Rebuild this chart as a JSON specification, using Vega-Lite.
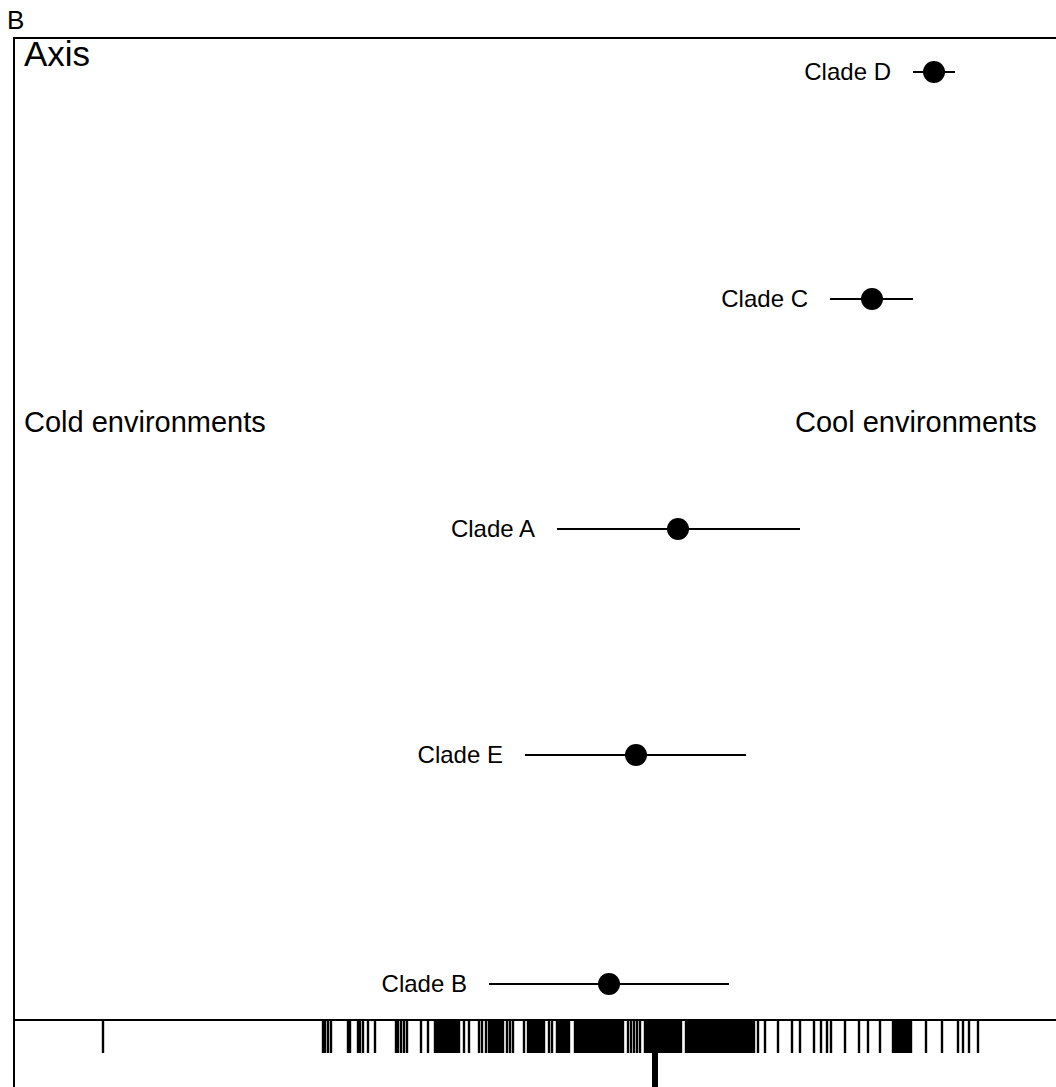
{
  "$schema": "https://vega.github.io/schema/vega-lite/v6.json",
  "width": 1046,
  "height": 1053,
  "autosize": "none",
  "padding": {"left": 14, "top": 38, "right": 0, "bottom": 0},
  "background": "white",
  "title": {"text": "B", "anchor": "start", "fontSize": 26, "font": "Liberation Sans", "fontWeight": "normal", "color": "black", "dx": -6, "offset": 4},
  "config": {"view": {"stroke": "black", "strokeWidth": 2}},
  "datasets": {
    "clades": [
      {"clade": "Clade D", "y": 72, "lo": 913, "est": 934, "hi": 955},
      {"clade": "Clade C", "y": 299, "lo": 830, "est": 872, "hi": 913},
      {"clade": "Clade A", "y": 529, "lo": 557, "est": 678, "hi": 800},
      {"clade": "Clade E", "y": 755, "lo": 525, "est": 636, "hi": 746},
      {"clade": "Clade B", "y": 984, "lo": 489, "est": 609, "hi": 729}
    ],
    "envs": [
      {"label": "Cold environments", "x": 24, "y": 432},
      {"label": "Cool environments", "x": 795, "y": 432}
    ],
    "axisLabel": [
      {"label": "Axis", "x": 24, "y": 66}
    ],
    "rug": [
      {"v": 103}, {"v": 323}, {"v": 325}, {"v": 328}, {"v": 331}, {"v": 348}, {"v": 350}, {"v": 358}, {"v": 360}, {"v": 363}, {"v": 368}, {"v": 375},
      {"v": 396}, {"v": 398}, {"v": 401}, {"v": 404}, {"v": 407}, {"v": 421}, {"v": 428},
      {"v": 435}, {"v": 437}, {"v": 439}, {"v": 441}, {"v": 443}, {"v": 445}, {"v": 447}, {"v": 449}, {"v": 451}, {"v": 453}, {"v": 455}, {"v": 457}, {"v": 459},
      {"v": 464}, {"v": 469}, {"v": 479}, {"v": 482}, {"v": 486},
      {"v": 489}, {"v": 491}, {"v": 493}, {"v": 495}, {"v": 497}, {"v": 499}, {"v": 501}, {"v": 503},
      {"v": 507}, {"v": 510}, {"v": 513}, {"v": 524},
      {"v": 528}, {"v": 530}, {"v": 532}, {"v": 534}, {"v": 536}, {"v": 538}, {"v": 540}, {"v": 542}, {"v": 544},
      {"v": 549}, {"v": 552},
      {"v": 557}, {"v": 559}, {"v": 561}, {"v": 563}, {"v": 565}, {"v": 567}, {"v": 569},
      {"v": 575}, {"v": 577}, {"v": 579}, {"v": 581}, {"v": 583}, {"v": 585}, {"v": 587}, {"v": 589}, {"v": 591}, {"v": 593}, {"v": 595}, {"v": 597}, {"v": 599}, {"v": 601}, {"v": 603}, {"v": 605}, {"v": 607}, {"v": 609}, {"v": 611}, {"v": 613}, {"v": 615}, {"v": 617}, {"v": 619}, {"v": 621}, {"v": 623},
      {"v": 628}, {"v": 631}, {"v": 634}, {"v": 637}, {"v": 640},
      {"v": 645}, {"v": 647}, {"v": 649}, {"v": 651}, {"v": 653}, {"v": 655}, {"v": 657}, {"v": 659}, {"v": 661}, {"v": 663}, {"v": 665}, {"v": 667}, {"v": 669}, {"v": 671}, {"v": 673}, {"v": 675}, {"v": 677}, {"v": 679}, {"v": 681},
      {"v": 686}, {"v": 688}, {"v": 690}, {"v": 692}, {"v": 694}, {"v": 696}, {"v": 698}, {"v": 700}, {"v": 702}, {"v": 704}, {"v": 706}, {"v": 708}, {"v": 710}, {"v": 712}, {"v": 714}, {"v": 716}, {"v": 718}, {"v": 720}, {"v": 722}, {"v": 724}, {"v": 726}, {"v": 728}, {"v": 730}, {"v": 732}, {"v": 734}, {"v": 736}, {"v": 738}, {"v": 740}, {"v": 742}, {"v": 744}, {"v": 746}, {"v": 748}, {"v": 750}, {"v": 752}, {"v": 754},
      {"v": 758}, {"v": 765}, {"v": 778}, {"v": 792}, {"v": 800}, {"v": 814}, {"v": 821}, {"v": 827}, {"v": 831}, {"v": 845}, {"v": 859}, {"v": 868}, {"v": 880},
      {"v": 893}, {"v": 895}, {"v": 897}, {"v": 899}, {"v": 901}, {"v": 903}, {"v": 905}, {"v": 907}, {"v": 909}, {"v": 911},
      {"v": 926}, {"v": 942}, {"v": 958}, {"v": 963}, {"v": 969}, {"v": 978}
    ],
    "centre": [{"v": 655}]
  },
  "layer": [
    {
      "data": {"name": "axisLabel"},
      "mark": {"type": "text", "align": "left", "baseline": "alphabetic", "font": "Liberation Sans", "fontSize": 35, "color": "black"},
      "encoding": {
        "x": {"field": "x", "type": "quantitative", "scale": {"domain": [14, 1060], "nice": false, "zero": false}, "axis": null},
        "y": {"field": "y", "type": "quantitative", "scale": {"domain": [38, 1091], "reverse": true, "nice": false, "zero": false}, "axis": null},
        "text": {"field": "label"}
      }
    },
    {
      "data": {"name": "envs"},
      "mark": {"type": "text", "align": "left", "baseline": "alphabetic", "font": "Liberation Sans", "fontSize": 29, "color": "black"},
      "encoding": {
        "x": {"field": "x", "type": "quantitative", "scale": {"domain": [14, 1060], "nice": false, "zero": false}, "axis": null},
        "y": {"field": "y", "type": "quantitative", "scale": {"domain": [38, 1091], "reverse": true, "nice": false, "zero": false}, "axis": null},
        "text": {"field": "label"}
      }
    },
    {
      "data": {"name": "clades"},
      "mark": {"type": "rule", "color": "black", "strokeWidth": 2},
      "encoding": {
        "x": {"field": "lo", "type": "quantitative", "scale": {"domain": [14, 1060], "nice": false, "zero": false}, "axis": null},
        "x2": {"field": "hi"},
        "y": {"field": "y", "type": "quantitative", "scale": {"domain": [38, 1091], "reverse": true, "nice": false, "zero": false}, "axis": null}
      }
    },
    {
      "data": {"name": "clades"},
      "mark": {"type": "point", "shape": "circle", "filled": true, "color": "black", "opacity": 1, "size": 484},
      "encoding": {
        "x": {"field": "est", "type": "quantitative", "scale": {"domain": [14, 1060], "nice": false, "zero": false}, "axis": null},
        "y": {"field": "y", "type": "quantitative", "scale": {"domain": [38, 1091], "reverse": true, "nice": false, "zero": false}, "axis": null}
      }
    },
    {
      "data": {"name": "clades"},
      "mark": {"type": "text", "align": "right", "baseline": "middle", "dx": -22, "dy": 1, "font": "Liberation Sans", "fontSize": 24, "color": "black"},
      "encoding": {
        "x": {"field": "lo", "type": "quantitative", "scale": {"domain": [14, 1060], "nice": false, "zero": false}, "axis": null},
        "y": {"field": "y", "type": "quantitative", "scale": {"domain": [38, 1091], "reverse": true, "nice": false, "zero": false}, "axis": null},
        "text": {"field": "clade"}
      }
    },
    {
      "data": {"name": "rug"},
      "mark": {"type": "rule", "color": "black", "strokeWidth": 2.4},
      "encoding": {
        "x": {"field": "v", "type": "quantitative", "scale": {"domain": [14, 1060], "nice": false, "zero": false}, "axis": null},
        "y": {"datum": 1020, "type": "quantitative", "scale": {"domain": [38, 1091], "reverse": true, "nice": false, "zero": false}, "axis": null},
        "y2": {"datum": 1053}
      }
    },
    {
      "data": {"name": "centre"},
      "mark": {"type": "rule", "color": "black", "strokeWidth": 6},
      "encoding": {
        "x": {"field": "v", "type": "quantitative", "scale": {"domain": [14, 1060], "nice": false, "zero": false}, "axis": null},
        "y": {"datum": 1020, "type": "quantitative", "scale": {"domain": [38, 1091], "reverse": true, "nice": false, "zero": false}, "axis": null},
        "y2": {"datum": 1091}
      }
    },
    {
      "data": {"values": [{"b": 1020}]},
      "mark": {"type": "rule", "color": "black", "strokeWidth": 2},
      "encoding": {
        "y": {"field": "b", "type": "quantitative", "scale": {"domain": [38, 1091], "reverse": true, "nice": false, "zero": false}, "axis": null}
      }
    }
  ]
}
